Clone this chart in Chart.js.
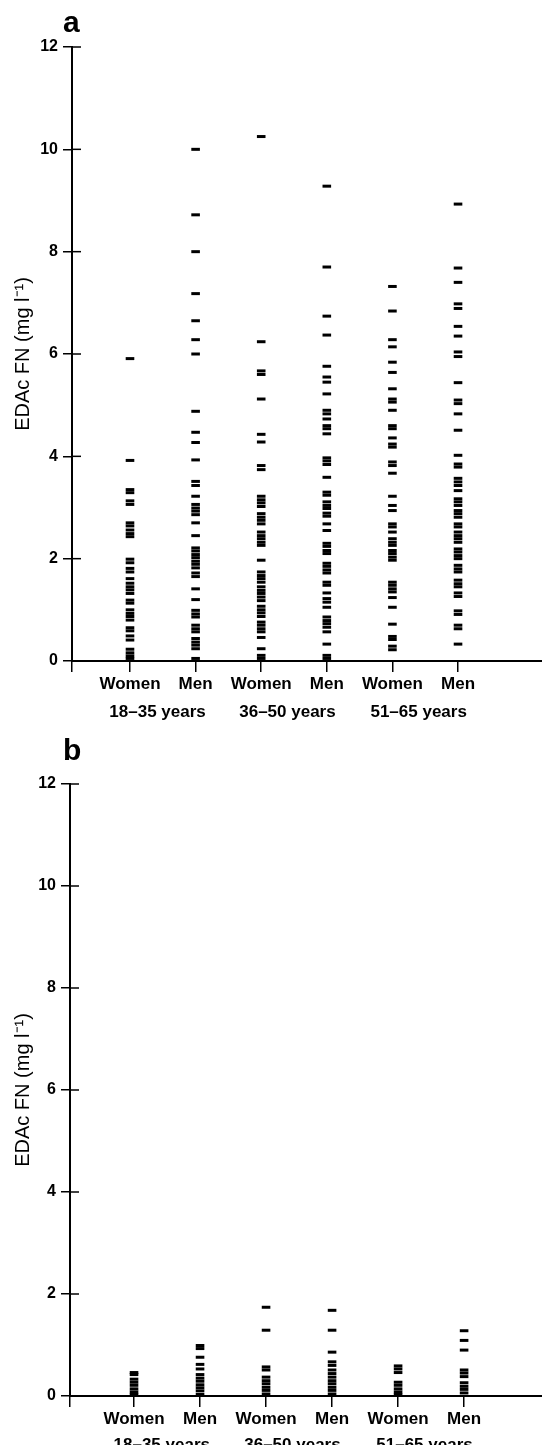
<!DOCTYPE html>
<html>
<head>
<meta charset="utf-8">
<script src="https://cdn.jsdelivr.net/npm/chart.js@4.4.0/dist/chart.umd.min.js"></script>
<style>
  body { margin: 0; background: #fff; }
  canvas { display: block; }
</style>
</head>
<body>
<canvas id="chart-a" width="542" height="722"></canvas>
<canvas id="chart-b" width="542" height="723"></canvas>
<script>
// labels
const sexLabels = ["Women", "Men", "Women", "Men", "Women", "Men"];
const ageLabels = ["18–35 years", "36–50 years", "51–65 years"];
const ageTickPos = [1.42, 3.4, 5.4];
const yTitle = "EDAc FN (mg l⁻¹)";

// panel a (mg/l)
const aWomen1835 = [5.91, 3.92, 3.35, 3.29, 3.13, 3.06, 2.70, 2.64, 2.56, 2.49, 2.43, 1.99, 1.92, 1.81, 1.74, 1.61, 1.52, 1.45, 1.39, 1.32, 1.19, 1.13, 1.00, 0.93, 0.87, 0.80, 0.65, 0.59, 0.49, 0.41, 0.23, 0.16, 0.10, 0.05];
const aMen1835 = [10.0, 8.72, 8.0, 7.18, 6.65, 6.28, 6.0, 4.88, 4.47, 4.27, 3.93, 3.51, 3.43, 3.22, 3.06, 2.99, 2.93, 2.86, 2.70, 2.45, 2.21, 2.15, 2.08, 2.02, 1.95, 1.89, 1.82, 1.72, 1.65, 1.41, 1.20, 0.99, 0.92, 0.86, 0.70, 0.63, 0.57, 0.44, 0.37, 0.31, 0.24, 0.05];
const aWomen3650 = [10.25, 6.24, 5.67, 5.60, 5.12, 4.43, 4.28, 3.82, 3.74, 3.22, 3.15, 3.09, 3.02, 2.88, 2.81, 2.75, 2.68, 2.52, 2.45, 2.39, 2.32, 2.26, 1.97, 1.74, 1.67, 1.61, 1.54, 1.45, 1.38, 1.32, 1.25, 1.18, 1.07, 1.00, 0.94, 0.87, 0.76, 0.70, 0.63, 0.57, 0.46, 0.24, 0.11, 0.05];
const aMen3650 = [9.28, 7.70, 6.74, 6.37, 5.76, 5.55, 5.45, 5.22, 4.90, 4.83, 4.73, 4.60, 4.54, 4.44, 3.97, 3.91, 3.84, 3.59, 3.30, 3.24, 3.11, 3.04, 2.98, 2.89, 2.83, 2.68, 2.55, 2.30, 2.24, 2.16, 2.10, 1.91, 1.85, 1.78, 1.72, 1.54, 1.48, 1.33, 1.22, 1.15, 1.05, 0.86, 0.79, 0.73, 0.66, 0.57, 0.33, 0.11, 0.05];
const aWomen5165 = [7.32, 6.84, 6.28, 6.14, 5.84, 5.64, 5.32, 5.12, 5.06, 4.90, 4.60, 4.54, 4.36, 4.24, 4.18, 3.89, 3.82, 3.67, 3.22, 3.04, 2.94, 2.68, 2.62, 2.52, 2.39, 2.32, 2.26, 2.16, 2.10, 2.03, 1.97, 1.54, 1.48, 1.41, 1.35, 1.24, 1.05, 0.72, 0.48, 0.42, 0.29, 0.22];
const aMen5165 = [8.93, 7.68, 7.40, 6.98, 6.89, 6.54, 6.35, 6.04, 5.95, 5.44, 5.10, 5.03, 4.83, 4.51, 4.02, 3.85, 3.79, 3.57, 3.50, 3.43, 3.33, 3.17, 3.11, 3.04, 2.94, 2.88, 2.81, 2.68, 2.62, 2.52, 2.45, 2.39, 2.32, 2.19, 2.13, 2.06, 2.00, 1.87, 1.80, 1.74, 1.58, 1.51, 1.45, 1.33, 1.26, 0.98, 0.91, 0.70, 0.63, 0.33];

// panel b (mg/l)
const bWomen1835 = [0.46, 0.42, 0.33, 0.27, 0.21, 0.14, 0.08, 0.03];
const bMen1835 = [0.99, 0.93, 0.76, 0.62, 0.53, 0.42, 0.35, 0.29, 0.22, 0.16, 0.10, 0.03];
const bWomen3650 = [1.74, 1.29, 0.57, 0.51, 0.37, 0.30, 0.24, 0.17, 0.11, 0.04];
const bMen3650 = [1.68, 1.29, 0.86, 0.67, 0.60, 0.51, 0.44, 0.37, 0.30, 0.24, 0.17, 0.11, 0.04];
const bWomen5165 = [0.59, 0.53, 0.46, 0.27, 0.21, 0.14, 0.08, 0.03];
const bMen5165 = [1.28, 1.09, 0.90, 0.51, 0.45, 0.38, 0.26, 0.19, 0.13, 0.06];

Chart.defaults.font.family = "'Liberation Sans', Arial, sans-serif";
Chart.defaults.color = "#000";

// panel letter + the little tick stubs inside the y axis
const panelExtras = {
  id: "panelExtras",
  afterDraw(chart, args, opts) {
    const ctx = chart.ctx;
    const y = chart.scales.y;
    const left = chart.chartArea.left;
    ctx.save();
    ctx.strokeStyle = "#000";
    ctx.lineWidth = 1.5;
    y.ticks.forEach(t => {
      if (t.value === 0) return;
      const py = y.getPixelForValue(t.value);
      ctx.beginPath();
      ctx.moveTo(left, py);
      ctx.lineTo(left + 9, py);
      ctx.stroke();
    });
    ctx.fillStyle = "#000";
    ctx.font = "bold 30px 'Liberation Sans', Arial, sans-serif";
    ctx.fillText(opts.letter, opts.letterX, opts.letterY);
    ctx.restore();
  }
};

function makePanel(id, letter, series, lay) {
  const datasets = series.map((vals, i) => ({
    data: vals.map(v => ({ x: i + 1, y: v })),
    pointStyle: "line",
    radius: 4.3,
    hoverRadius: 4.3,
    borderWidth: 3,
    borderColor: "#000",
    backgroundColor: "#000"
  }));

  return new Chart(document.getElementById(id), {
    type: "scatter",
    data: { datasets },
    options: {
      responsive: false,
      animation: false,
      events: [],
      layout: { autoPadding: false, padding: { top: lay.top, left: 0, right: 0, bottom: 0 } },
      plugins: {
        legend: { display: false },
        tooltip: { enabled: false },
        panelExtras: { letter: letter, letterX: 63, letterY: lay.letterY }
      },
      scales: {
        x: {
          type: "linear",
          position: "bottom",
          weight: 0,
          min: lay.xMin,
          max: lay.xMax,
          afterBuildTicks: s => { s.ticks = [lay.xMin, 1, 2, 3, 4, 5, 6].map(v => ({ value: v })); },
          afterFit: s => { s.height = lay.xH; },
          ticks: {
            autoSkip: false,
            maxRotation: 0,
            padding: 2,
            font: { size: 17, weight: "bold" },
            callback: v => sexLabels[v - 1] || ""
          },
          grid: { drawOnChartArea: false, tickLength: 11, color: "#000", lineWidth: 1.5 },
          border: { color: "#000", width: 2 }
        },
        x2: {
          type: "linear",
          position: "bottom",
          weight: 1,
          min: lay.xMin,
          max: lay.xMax,
          afterBuildTicks: s => { s.ticks = ageTickPos.map(v => ({ value: v })); },
          afterFit: s => { s.height = lay.x2H; },
          ticks: {
            autoSkip: false,
            maxRotation: 0,
            padding: 0,
            font: { size: 17, weight: "bold" },
            callback: (v, i) => ageLabels[i]
          },
          grid: { display: false },
          border: { display: false }
        },
        y: {
          min: 0,
          max: 12,
          afterFit: s => { s.width = lay.yW; },
          ticks: { stepSize: 2, padding: 5, font: { size: 16, weight: "bold" } },
          grid: { drawOnChartArea: false, tickLength: 9, color: "#000", lineWidth: 1.5 },
          border: { color: "#000", width: 2 },
          title: {
            display: true,
            text: yTitle,
            font: { size: 20 },
            padding: { top: 11, bottom: 0 }
          }
        }
      }
    },
    plugins: [panelExtras]
  });
}

makePanel("chart-a", "a",
  [aWomen1835, aMen1835, aWomen3650, aMen3650, aWomen5165, aMen5165],
  { top: 47, yW: 72, xMin: 0.116, xMax: 7.28, xH: 33, x2H: 28, letterY: 32 });

makePanel("chart-b", "b",
  [bWomen1835, bMen1835, bWomen3650, bMen3650, bWomen5165, bMen5165],
  { top: 62, yW: 70, xMin: 0.03, xMax: 7.18, xH: 31, x2H: 18, letterY: 38 });
</script>
</body>
</html>
